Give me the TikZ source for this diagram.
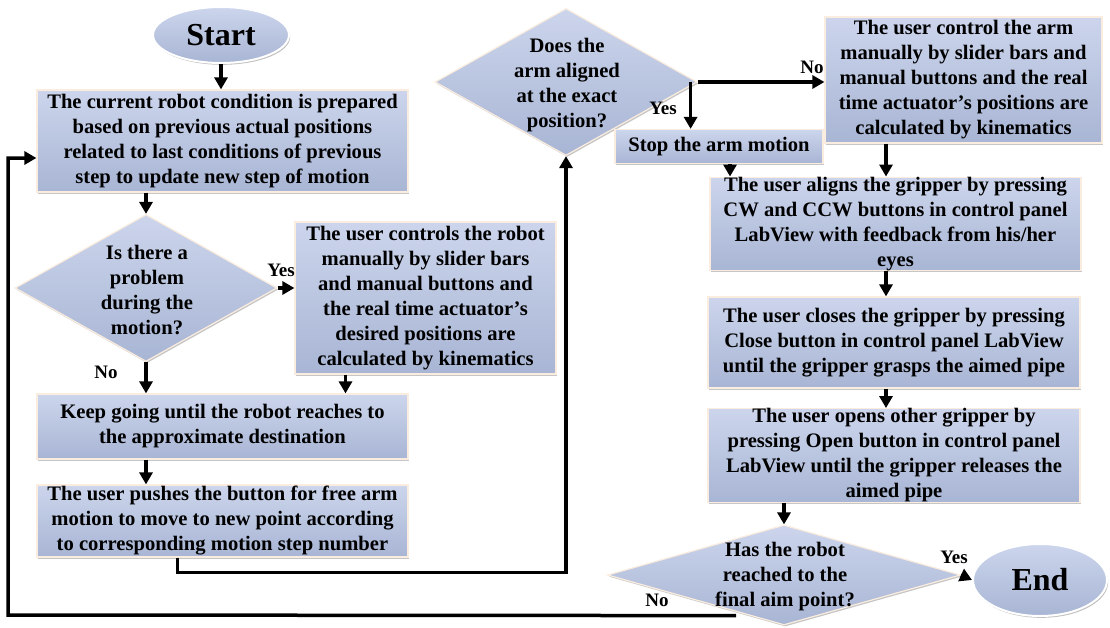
\documentclass[tikz,border=0pt]{standalone}
\usepackage{fontspec}
\setmainfont{Liberation Serif}
\usetikzlibrary{positioning,arrows.meta,shapes.geometric,shadows}

\definecolor{boxtop}{RGB}{204,213,236}
\definecolor{boxbot}{RGB}{168,181,212}
\definecolor{rimline}{RGB}{250,236,222}

\tikzset{
  proc/.style={rectangle, draw=rimline, line width=1.2pt, top color=boxtop, bottom color=boxbot,
    align=center, inner sep=0pt, font=\bfseries\fontsize{20.6}{25}\selectfont,
    drop shadow={shadow xshift=1.2pt, shadow yshift=-1.6pt, opacity=0.45}},
  decision/.style={diamond, draw=rimline, line width=1.2pt, top color=boxtop, bottom color=boxbot,
    inner sep=0pt, drop shadow={shadow xshift=1.2pt, shadow yshift=-1.6pt, opacity=0.45}},
  dtext/.style={align=center, inner sep=0pt, font=\bfseries\fontsize{20.6}{25}\selectfont},
  term/.style={ellipse, draw=white, line width=2pt, top color=boxtop, bottom color=boxbot,
    inner sep=0pt, font=\bfseries\fontsize{32}{36}\selectfont,
    drop shadow={shadow xshift=1.2pt, shadow yshift=-1.8pt, opacity=0.5}},
  answer/.style={inner sep=0pt, font=\bfseries\fontsize{19}{20}\selectfont},
  flow/.style={line width=3.5pt, -{Triangle[length=12pt,width=13pt]}}
}

\begin{document}
\begin{tikzpicture}[x=1pt, y=-1pt]
\useasboundingbox (0,0) rectangle (1110,627);

% left column
\node[term, minimum width=136pt, minimum height=56pt] (start) at (221,35) {Start};
\node[proc, minimum width=371pt, minimum height=102pt] (prep) at (222.5,141)
  {The current robot condition is prepared\\ based on previous actual positions\\
   related to last conditions of previous\\ step to update new step of motion};
\node[decision, minimum width=262pt, minimum height=147pt] (problem) at (146,288) {};
\node[dtext] (problemtxt) at (147,290) {Is there a\\ problem\\ during the\\ motion?};
\node[proc, minimum width=261pt, minimum height=152pt] (manual) at (425.5,298)
  {The user controls the robot\\ manually by slider bars\\ and manual buttons and\\
   the real time actuator's\\ desired positions are\\ calculated by kinematics};
\node[proc, minimum width=371pt, minimum height=65pt] (keepgo) at (222.5,426.5)
  {Keep going until the robot reaches to\\ the approximate destination};
\node[proc, minimum width=371pt, minimum height=72pt] (freearm) at (222.5,521)
  {The user pushes the button for free arm\\ motion to move to new point according\\
   to corresponding motion step number};

% right column
\node[decision, minimum width=262pt, minimum height=147pt] (aligned) at (566,82) {};
\node[dtext] (alignedtxt) at (567,85) {Does the\\ arm aligned\\ at the exact\\ position?};
\node[proc, minimum width=208pt, minimum height=34pt] (stoparm) at (719,146.5) {Stop the arm motion};
\node[proc, minimum width=277pt, minimum height=126pt] (armctrl) at (963.5,80)
  {The user control the arm\\ manually by slider bars and\\ manual buttons and the real\\
   time actuator's positions are\\ calculated by kinematics};
\node[proc, minimum width=371pt, minimum height=92pt] (alignrip) at (895.5,224)
  {The user aligns the gripper by pressing\\ CW and CCW buttons in control panel\\
   LabView with feedback from his/her\\ eyes};
\node[proc, minimum width=372pt, minimum height=91pt] (closegrip) at (894,342.5)
  {The user closes the gripper by pressing\\ Close button in control panel LabView\\
   until the gripper grasps the aimed pipe};
\node[proc, minimum width=372pt, minimum height=91pt] (opengrip) at (894,455.5)
  {The user opens other gripper by\\ pressing Open button in control panel\\
   LabView until the gripper releases the\\ aimed pipe};
\node[decision, minimum width=353pt, minimum height=100pt] (finalpt) at (784,575) {};
\node[term, minimum width=134pt, minimum height=72pt] (stop) at (1040,580) {End};

% answers
\node[answer] (yes1) at (281,270) {Yes};
\node[answer] (no1) at (106,372) {No};
\node[answer] (yes2) at (663,108) {Yes};
\node[answer] (no2) at (812,67) {No};
\node[answer] (yes3) at (954,557) {Yes};
\node[answer] (no3) at (657,600) {No};
\coordinate (loopcorner) at (8,615);

% connectors
\draw[flow] (start.south) -- (start |- prep.north);
\draw[flow] (problem |- prep.south) -- (problem.north);
\draw[flow] (problem.east) -- (manual.west |- problem.east);
\draw[flow] (problem.south) -- (problem |- keepgo.north);
\draw[flow] ([xshift=-80pt]manual.south) -- ([xshift=-80pt]manual.south |- keepgo.north);
\draw[flow] (problem |- keepgo.south) -- (problem |- freearm.north);
\draw[flow] ([xshift=-45pt]freearm.south) -- ++(0,15) -| (aligned.south);
\draw[flow] ([xshift=-7pt]aligned.east) -- ([xshift=-7pt]aligned.east |- stoparm.north);
\draw[flow] (aligned.east) -- (armctrl.west |- aligned.east);
\draw[flow] ([xshift=11pt]stoparm.south) -- ([xshift=11pt]stoparm.south |- alignrip.north);
\draw[flow] (armctrl.south -| 886,0) -- (alignrip.north -| 886,0);
\draw[flow] (alignrip.south -| 886,0) -- (closegrip.north -| 886,0);
\draw[flow] (closegrip.south -| 886,0) -- (opengrip.north -| 886,0);
\draw[flow] (finalpt |- opengrip.south) -- (finalpt.north);
\draw[flow] (finalpt.east) -- (stop.west);
\draw[flow] ([xshift=-48pt,yshift=10pt]finalpt.south) -- (loopcorner) |- ([yshift=-17pt]prep.west);

\node[dtext] (finalpttxt) at (785,577) {Has the robot\\ reached to the\\ final aim point?};
\end{tikzpicture}
\end{document}
